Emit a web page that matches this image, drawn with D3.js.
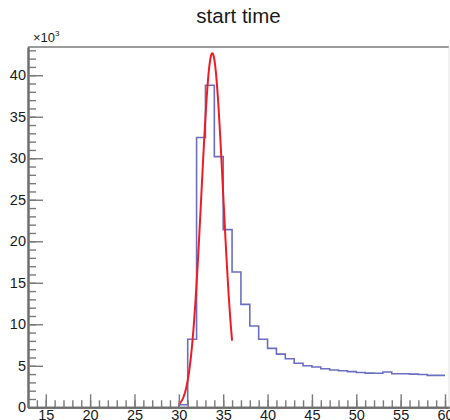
<!DOCTYPE html>
<html>
<head>
<meta charset="utf-8">
<script src="https://cdn.jsdelivr.net/npm/d3@7"></script>
<style>
  body { margin: 0; background: #fff; }
  svg text { font-family: "Liberation Sans", Arial, sans-serif; fill: #1a1a1a; }
</style>
</head>
<body>
<div id="chart"></div>
<script>
// histogram bins, width 1 (lower edges), counts in units of 10^3
const binEdges = d3.range(30, 60);
const counts = [0.3, 8.2, 32.5, 38.8, 30.2, 21.4, 16.3, 12.4, 9.8, 8.2,
                7.1, 6.4, 5.85, 5.3, 5.0, 4.85, 4.65, 4.5, 4.4, 4.3,
                4.2, 4.12, 4.1, 4.25, 4.05, 4.05, 4.0, 3.95, 3.85, 3.85];

// gaus fit
const fitConst = 42.65, fitMean = 33.77, fitSigma = 1.22;
const fitRange = [30, 36];

const xTicks = [15, 20, 25, 30, 35, 40, 45, 50, 55, 60];
const yTicks = [0, 5, 10, 15, 20, 25, 30, 35, 40];

const width = 450, height = 420;
const margin = {left: 28, right: 449, top: 47, bottom: 407.3};

const svg = d3.select("#chart").append("svg")
    .attr("width", width)
    .attr("height", height);

const x = d3.scaleLinear().domain([13, 60.45]).range([margin.left, margin.right]);
const y = d3.scaleLinear().domain([0, 43.4]).range([margin.bottom, margin.top]);

// title
svg.append("text")
    .attr("x", (margin.left + margin.right) / 2)
    .attr("y", 23)
    .attr("text-anchor", "middle")
    .style("font-size", "20.5px")
    .text("start time");

// histogram as steps
const pts = [[binEdges[0], 0]];
binEdges.forEach((e, i) => pts.push([e, counts[i]]));
pts.push([binEdges[binEdges.length - 1] + 1, counts[counts.length - 1]]);

const step = d3.line()
    .x(d => x(d[0]))
    .y(d => y(d[1]))
    .curve(d3.curveStepAfter);

svg.append("path")
    .attr("d", step(pts))
    .attr("fill", "none")
    .attr("stroke", "#6a6fc2")
    .attr("stroke-width", 1.6);

// fit curve
const gaus = t => fitConst * Math.exp(-0.5 * Math.pow((t - fitMean) / fitSigma, 2));
const fitPts = d3.range(fitRange[0], fitRange[1] + 0.001, 0.05).map(t => [t, gaus(t)]);

svg.append("path")
    .attr("d", d3.line().x(d => x(d[0])).y(d => y(d[1]))(fitPts))
    .attr("fill", "none")
    .attr("stroke", "#ee1c25")
    .attr("stroke-width", 2);

// frame
svg.append("line")
    .attr("x1", margin.left).attr("x2", margin.right)
    .attr("y1", margin.top).attr("y2", margin.top)
    .attr("stroke", "#7a7a7a").attr("stroke-width", 1.6);
svg.append("line")
    .attr("x1", margin.right).attr("x2", margin.right)
    .attr("y1", margin.top).attr("y2", margin.bottom)
    .attr("stroke", "#e4e4e4").attr("stroke-width", 1);

// y axis: minor + major ticks pointing inward
const yMinor = d3.axisLeft(y).tickValues(d3.range(0, 44, 1)).tickSize(-8).tickSizeOuter(0).tickFormat("");
const yMajor = d3.axisLeft(y).tickValues(yTicks).tickSize(-15).tickSizeOuter(0).tickPadding(2);

svg.append("g").attr("transform", `translate(${margin.left},0)`).call(yMinor);
svg.append("g").attr("class", "ymaj").attr("transform", `translate(${margin.left},0)`).call(yMajor);

// x axis
const xMinor = d3.axisBottom(x).tickValues(d3.range(14, 61, 1)).tickSize(-7).tickSizeOuter(0).tickFormat("");
const xMajor = d3.axisBottom(x).tickValues(xTicks).tickSize(-13).tickSizeOuter(0).tickPadding(2);

svg.append("g").attr("transform", `translate(0,${margin.bottom})`).call(xMinor);
svg.append("g").attr("class", "xmaj").attr("transform", `translate(0,${margin.bottom})`).call(xMajor);

svg.selectAll(".tick line").attr("stroke", "#7a7a7a").attr("stroke-width", 1.4);
svg.selectAll(".domain").attr("stroke", "#6e6e6e").attr("stroke-width", 2);
svg.selectAll(".ymaj text, .xmaj text")
    .style("font-size", "14.5px")
    .attr("fill", "#1a1a1a");

// exponent label
const expo = svg.append("text")
    .attr("x", 33)
    .attr("y", 42)
    .style("font-size", "13px");
expo.append("tspan").text("\u00d710");
expo.append("tspan").attr("dy", -6).style("font-size", "8px").text("3");
</script>
</body>
</html>
